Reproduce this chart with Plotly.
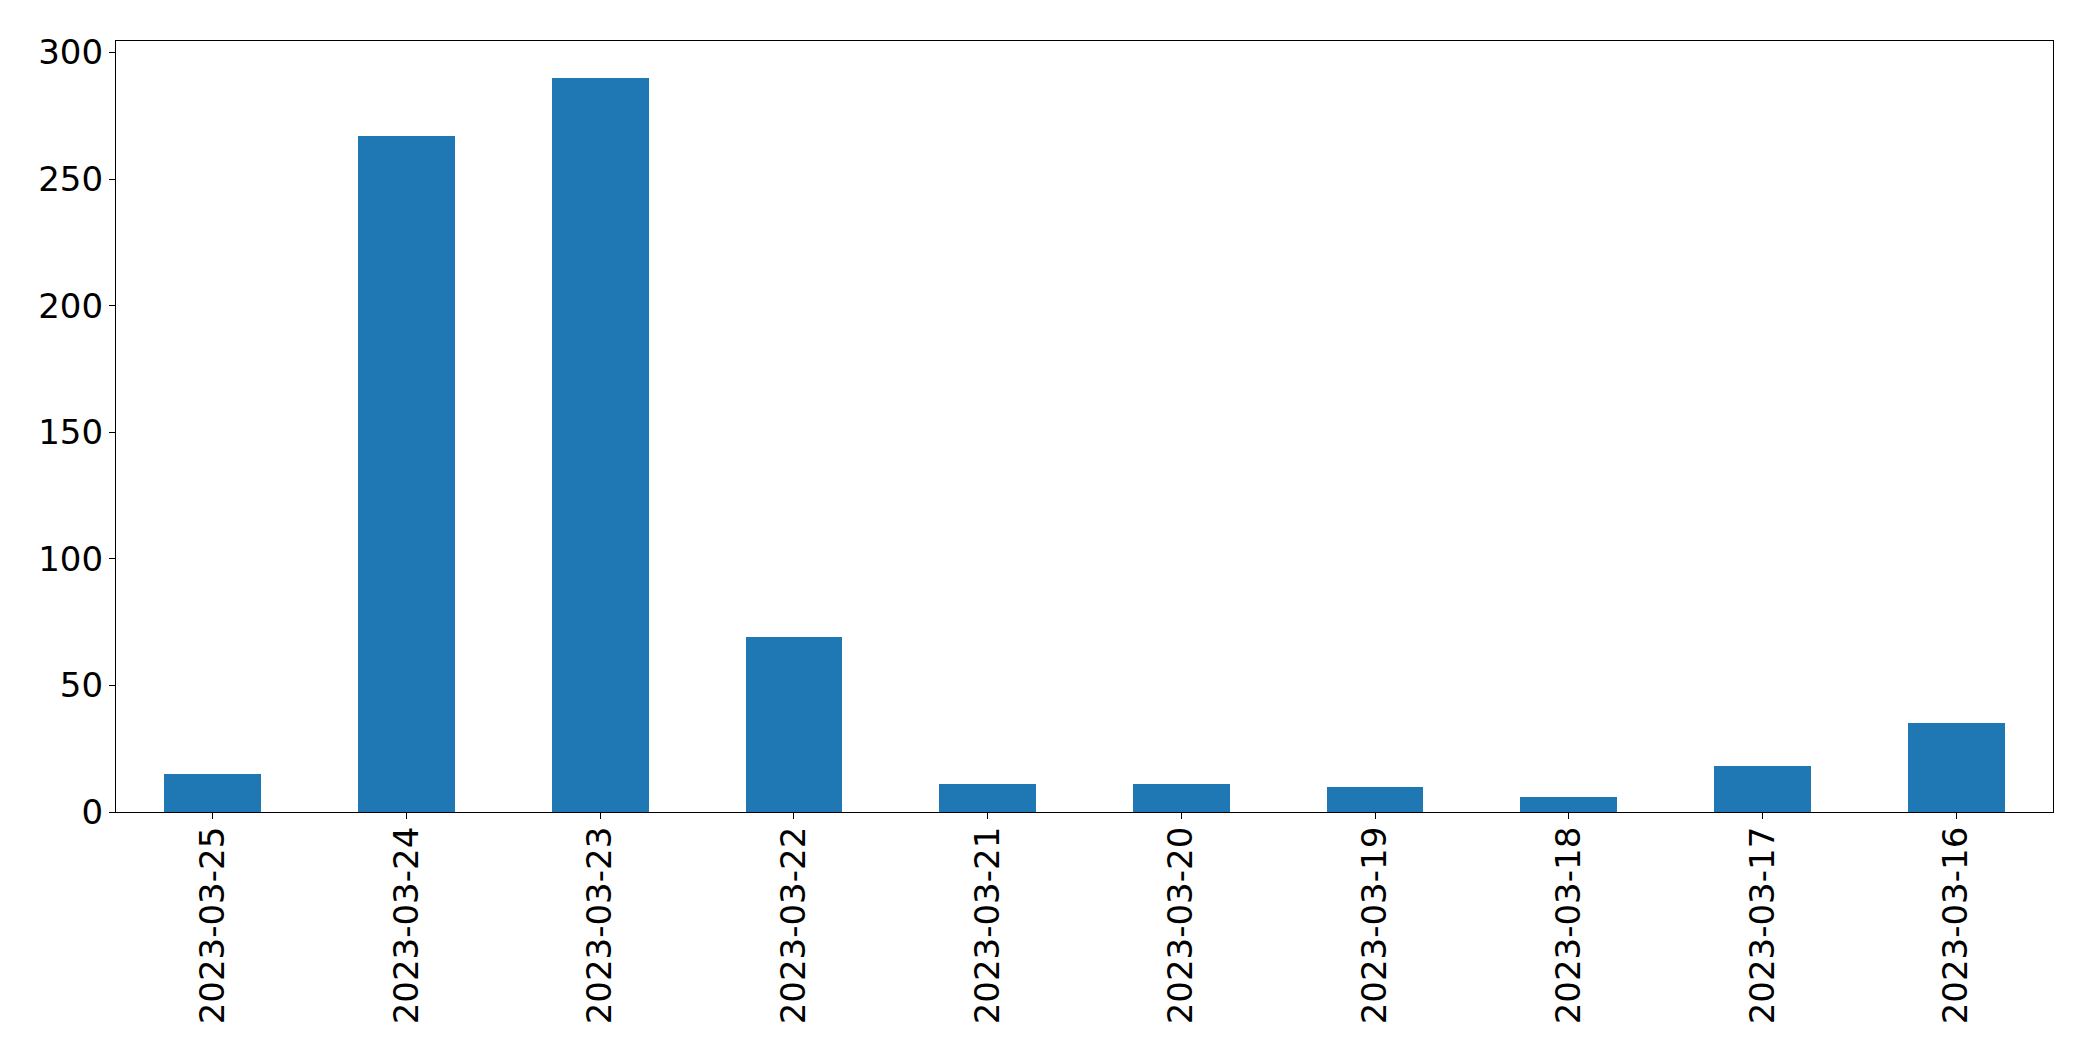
import plotly.graph_objects as go

dates = ["2023-03-25", "2023-03-24", "2023-03-23", "2023-03-22", "2023-03-21",
         "2023-03-20", "2023-03-19", "2023-03-18", "2023-03-17", "2023-03-16"]
counts = [15, 267, 290, 69, 11, 11, 10, 6, 18, 35]
y_ticks = [0, 50, 100, 150, 200, 250, 300]

fig = go.Figure()
fig.add_trace(go.Bar(x=dates, y=counts, width=0.5, marker=dict(color="#1f77b4", line=dict(width=0))))

axis_style = dict(
    showline=True, linecolor="black", linewidth=1.3, mirror=True,
    ticks="outside", ticklen=6, tickwidth=1.3, tickcolor="black",
    showgrid=False, zeroline=False,
    tickfont=dict(family="DejaVu Sans", size=34, color="black"),
)

fig.update_xaxes(type="category", range=[-0.5, len(dates) - 0.5], tickangle=-90,
                 ticklabelstandoff=-6, **axis_style)
fig.update_yaxes(range=[0, max(counts) * 1.05], tickvals=y_ticks,
                 ticklabelstandoff=-1, **axis_style)

fig.update_layout(
    width=2093, height=1064,
    margin=dict(l=108, r=48, t=33, b=260, autoexpand=False),
    plot_bgcolor="white", paper_bgcolor="white",
    showlegend=False,
    bargap=0,
)

fig.write_html("out.html")
